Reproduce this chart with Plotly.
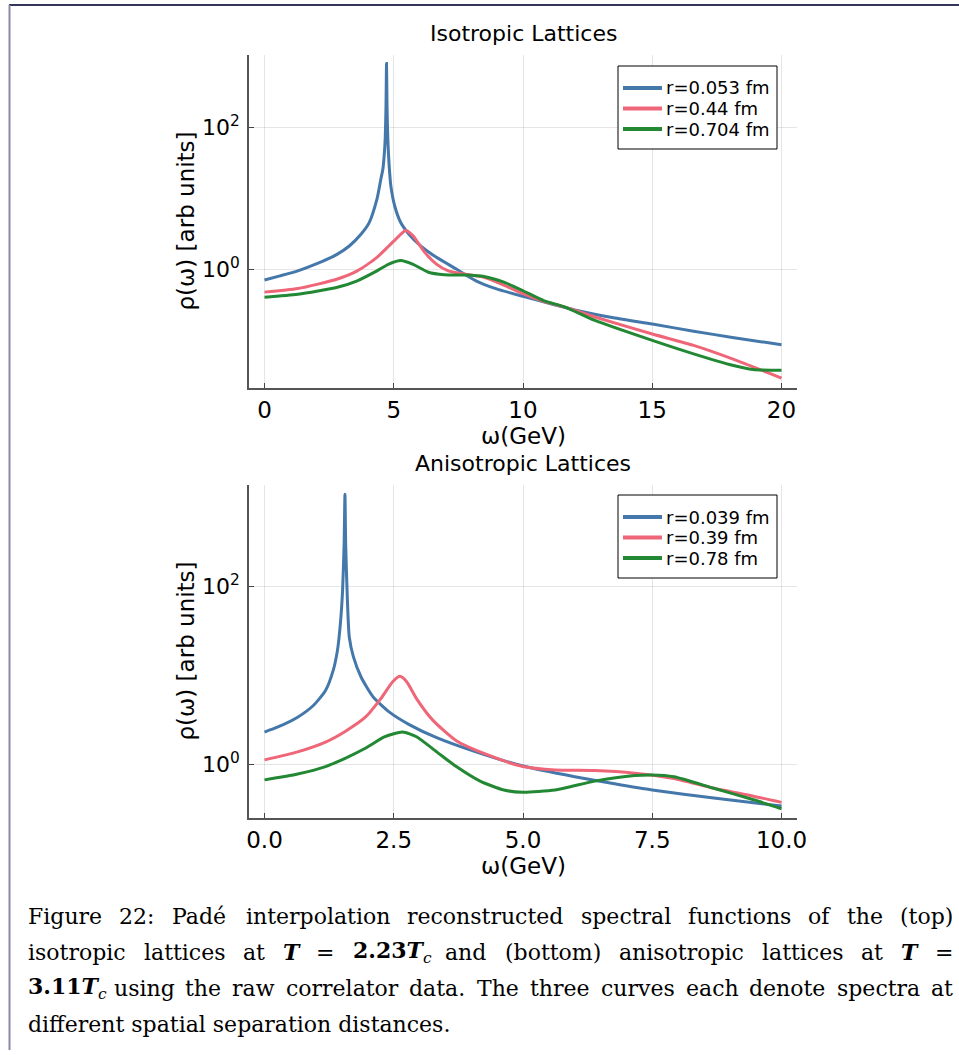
import plotly.graph_objects as go

W, H = 959, 1050

# ---------------- data ----------------
iso_names = ["r=0.053 fm", "r=0.44 fm", "r=0.704 fm"]
aniso_names = ["r=0.039 fm", "r=0.39 fm", "r=0.78 fm"]
colors = ["#4477AA", "#EE6677", "#228833"]

iso_blue_x = [0, 0.6, 1.29, 2.05, 2.82, 3.28, 3.74, 4.05, 4.35, 4.5, 4.58, 4.63, 4.67, 4.70, 4.72,
              4.74, 4.77, 4.82, 4.89, 5.04, 5.27, 5.58, 6.04, 6.65, 7.42, 8.18, 8.95, 10, 11.25, 12,
              13.5, 15, 16.6, 18.1, 20]
iso_blue_y = [0.708, 0.81, 0.955, 1.213, 1.641, 2.138, 3.162, 4.571, 9.77, 18.6, 26.0, 40.0, 70.0, 200.0, 794,
              200.0, 70.0, 30.0, 14.79, 7.76, 4.57, 3.16, 2.14, 1.479, 1.012, 0.692, 0.537, 0.417, 0.316, 0.269,
              0.209, 0.170, 0.135, 0.110, 0.087]

iso_red_x = [0, 1.29, 2.82, 3.59, 4.35, 4.81, 5.2, 5.46, 5.73, 6.2, 6.65, 7.11, 7.72, 8.49, 9.26, 10,
             10.8, 11.63, 12.78, 15, 16.6, 18.1, 20]
iso_red_y = [0.479, 0.537, 0.733, 0.955, 1.479, 2.138, 2.951, 3.548, 3.020, 1.738, 1.189, 0.955, 0.861,
             0.776, 0.603, 0.457, 0.355, 0.295, 0.214, 0.123, 0.0851, 0.0550, 0.0295]

iso_green_x = [0, 1.29, 2.82, 3.59, 4.35, 4.81, 5.27, 5.73, 6.34, 6.96, 7.72, 8.49, 9.26, 10, 10.8,
               11.63, 12.78, 15, 16.6, 18.1, 18.9, 20]
iso_green_y = [0.407, 0.447, 0.562, 0.692, 0.955, 1.189, 1.337, 1.189, 0.912, 0.841, 0.832, 0.794, 0.661,
               0.501, 0.363, 0.295, 0.191, 0.100, 0.0646, 0.0447, 0.0389, 0.0380]

an_blue_x = [0, 0.26, 0.64, 0.95, 1.18, 1.33, 1.41, 1.47, 1.51, 1.54, 1.556, 1.57, 1.60, 1.64, 1.72,
             1.87, 2.10, 2.41, 2.79, 3.33, 4.09, 5.0, 6.0, 6.77, 7.5, 8.69, 10]
an_blue_y = [2.307, 2.630, 3.388, 4.624, 6.761, 11.48, 19.05, 40.0, 90.0, 300.0, 1096, 300.0, 80.0, 26.9, 16.2,
             9.55, 5.75, 3.89, 2.818, 1.995, 1.380, 0.955, 0.724, 0.603, 0.513, 0.417, 0.339]

an_red_x = [0, 0.64, 1.18, 1.56, 1.95, 2.25, 2.48, 2.62, 2.75, 2.94, 3.25, 3.71, 4.32, 5.0, 5.62, 6.39,
            7.16, 7.92, 8.69, 9.46, 10]
an_red_y = [1.122, 1.380, 1.778, 2.344, 3.388, 5.495, 8.511, 9.772, 8.511, 5.495, 3.162, 1.841, 1.274,
            0.942, 0.863, 0.851, 0.794, 0.692, 0.537, 0.437, 0.372]

an_green_x = [0, 0.64, 1.18, 1.56, 1.95, 2.33, 2.67, 2.94, 3.33, 3.71, 4.17, 4.63, 5.0, 5.62, 6.39,
              7.16, 7.5, 7.92, 8.69, 9.46, 10]
an_green_y = [0.667, 0.776, 0.942, 1.167, 1.514, 2.042, 2.307, 2.042, 1.380, 0.942, 0.646, 0.513, 0.485,
              0.513, 0.646, 0.746, 0.759, 0.724, 0.537, 0.398, 0.316]

iso_xticks = [0, 5, 10, 15, 20]
iso_xticktext = ["0", "5", "10", "15", "20"]
an_xticks = [0, 2.5, 5, 7.5, 10]
an_xticktext = ["0.0", "2.5", "5.0", "7.5", "10.0"]
ytick_vals = [1, 100]
ytick_text = ["10<sup>0</sup>", "10<sup>2</sup>"]

titles = ["Isotropic Lattices", "Anisotropic Lattices"]
xlabel = "ω(GeV)"
ylabel = "ρ(ω) [arb units]"

caption_lines = [
    [("Figure", "Figure"), ("22:", "22:"), ("Padé", "Pade"), ("interpolation", "interpolation"),
     ("reconstructed", "reconstructed"), ("spectral", "spectral"), ("functions", "functions"),
     ("of", "of"), ("the", "the"), ("(top)", "(top)")],
    [("isotropic", "isotropic"), ("lattices", "lattices"), ("at", "at"), ("<b><i>T</i></b>", "T"),
     ("=", "="), ("<b>2.23<i>T</i></b><sub><i>c</i></sub>", "2.23Tk"), ("and", "and"),
     ("(bottom)", "(bottom)"), ("anisotropic", "anisotropic"), ("lattices", "lattices"), ("at", "at"),
     ("<b><i>T</i></b>", "T"), ("=", "=")],
    [("<b>3.11<i>T</i></b><sub><i>c</i></sub>", "3.11Tk"), ("using", "using"), ("the", "the"),
     ("raw", "raw"), ("correlator", "correlator"), ("data.", "data."), ("The", "The"),
     ("three", "three"), ("curves", "curves"), ("each", "each"), ("denote", "denote"),
     ("spectra", "spectra"), ("at", "at")],
]
caption_last = "different spatial separation distances."

# ---------------- figure ----------------
fig = go.Figure()

def add(x, y, name, color, xa, ya):
    fig.add_trace(go.Scatter(x=x, y=y, name=name, mode="lines", showlegend=False,
                             line=dict(color=color, width=3, shape="spline", smoothing=0.6),
                             xaxis=xa, yaxis=ya))

add(iso_blue_x, iso_blue_y, iso_names[0], colors[0], "x", "y")
add(iso_red_x, iso_red_y, iso_names[1], colors[1], "x", "y")
add(iso_green_x, iso_green_y, iso_names[2], colors[2], "x", "y")
add(an_blue_x, an_blue_y, aniso_names[0], colors[0], "x2", "y2")
add(an_red_x, an_red_y, aniso_names[1], colors[1], "x2", "y2")
add(an_green_x, an_green_y, aniso_names[2], colors[2], "x2", "y2")

def fx(p):
    return p / W

def fy(p):
    return 1 - p / H

plot_l, plot_r = 249, 797
top_t, top_b = 55, 388
bot_t, bot_b = 485, 818

tickfont = dict(family="DejaVu Sans", size=23, color="black")
ytickfont = dict(family="DejaVu Sans", size=22, color="black")
axcommon = dict(showline=True, linecolor="#555555", linewidth=1.5, mirror=False,
                ticks="inside", ticklen=5, tickcolor="#444444", tickwidth=1,
                showgrid=True, gridcolor="rgba(0,0,0,0.1)", gridwidth=1,
                zeroline=False)

fig.update_layout(
    width=W, height=H,
    margin=dict(l=0, r=0, t=0, b=0, autoexpand=False),
    paper_bgcolor="white", plot_bgcolor="white",
    showlegend=False,
    xaxis=dict(domain=[fx(plot_l), fx(plot_r)], range=[-0.6, 20.6], anchor="y", tickfont=tickfont,
               tickvals=iso_xticks, ticktext=iso_xticktext, ticklabelstandoff=1, **axcommon),
    yaxis=dict(domain=[fy(top_b), fy(top_t)], type="log", range=[-1.67, 3.02], anchor="x", tickfont=ytickfont,
               tickvals=ytick_vals, ticktext=ytick_text, ticklabelstandoff=3, **axcommon),
    xaxis2=dict(domain=[fx(plot_l), fx(plot_r)], range=[-0.3, 10.3], anchor="y2", tickfont=tickfont,
                tickvals=an_xticks, ticktext=an_xticktext, ticklabelstandoff=1, **axcommon),
    yaxis2=dict(domain=[fy(bot_b), fy(bot_t)], type="log", range=[-0.605, 3.145], anchor="x2", tickfont=ytickfont,
                tickvals=ytick_vals, ticktext=ytick_text, ticklabelstandoff=3, **axcommon),
)

shapes = []
ann = []
# legend boxes (drawn manually to match the compact entry spacing)
legfont = dict(family="DejaVu Sans", size=18, color="black")
for (t, b), names in [((66, 149), iso_names), ((495, 578), aniso_names)]:
    shapes.append(dict(type="rect", xref="paper", yref="paper", x0=fx(618), x1=fx(777),
                       y0=fy(b), y1=fy(t), line=dict(color="black", width=1),
                       fillcolor="white", layer="above"))
    for i, (nm, col) in enumerate(zip(names, colors)):
        yy = t + 22 + 20.5 * i
        shapes.append(dict(type="line", xref="paper", yref="paper", x0=fx(623), x1=fx(662),
                           y0=fy(yy), y1=fy(yy), line=dict(color=col, width=4), layer="above"))
        ann.append(dict(text=nm, x=fx(664), y=fy(yy), xref="paper", yref="paper",
                        showarrow=False, xanchor="left", yanchor="middle", font=legfont))
# page frame
shapes.append(dict(type="line", xref="paper", yref="paper", x0=fx(9), x1=1, y0=fy(5), y1=fy(5),
                   line=dict(color="#33365a", width=2)))
shapes.append(dict(type="line", xref="paper", yref="paper", x0=fx(9.5), x1=fx(9.5), y0=0, y1=fy(5),
                   line=dict(color="#8a8aa8", width=2)))
fig.update_layout(shapes=shapes)

labfont = dict(family="DejaVu Sans", size=23, color="black")
titfont = dict(family="DejaVu Sans", size=22, color="black")
cx = (plot_l + plot_r) / 2
for t, (yt, yb) in zip(titles, [(top_t, top_b), (bot_t, bot_b)]):
    ann.append(dict(text=t, x=fx(cx), y=fy(yt - 22), xref="paper", yref="paper",
                    showarrow=False, xanchor="center", yanchor="middle", font=titfont))
    ann.append(dict(text=xlabel, x=fx(cx), y=fy(yb + 48), xref="paper", yref="paper",
                    showarrow=False, xanchor="center", yanchor="middle", font=labfont))
    ann.append(dict(text=ylabel, x=fx(185), y=fy((yt + yb) / 2), xref="paper", yref="paper",
                    showarrow=False, xanchor="center", yanchor="middle", textangle=-90, font=labfont))

# caption (justified lines), DejaVu Serif advance widths (em)
cap_size = 22
widths = dict(zip("abcdefghijklmnopqrstuvwxyz",
                  [.596, .640, .560, .640, .592, .370, .640, .644, .320, .310, .606, .320, .948, .644,
                   .602, .640, .640, .478, .513, .402, .644, .565, .856, .564, .565, .527]))
widths.update({"F": .683, "P": .732, "T": .70, "k": .39, ".": .318, ":": .337, "(": .390, ")": .390,
               "=": .838})
for d in "0123456789":
    widths[d] = .66

def est(word):
    return sum(widths.get(ch, .6) for ch in word) * cap_size

cap_left, cap_right = 26, 951
line_mid = [916, 952, 988, 1024]
capfont = dict(family="DejaVu Serif", size=cap_size, color="black")
for li, toks in enumerate(caption_lines):
    ws = [est(p) for _, p in toks]
    gap = (cap_right - cap_left - sum(ws)) / (len(toks) - 1)
    xpos = cap_left
    for (html, plain), w in zip(toks, ws):
        ann.append(dict(text=html, x=fx(xpos), y=fy(line_mid[li]), xref="paper", yref="paper",
                        showarrow=False, xanchor="left", yanchor="middle", font=capfont))
        xpos += w + gap
ann.append(dict(text=caption_last, x=fx(cap_left), y=fy(line_mid[3]), xref="paper", yref="paper",
                showarrow=False, xanchor="left", yanchor="middle", font=capfont))

fig.update_layout(annotations=ann)
fig.write_html("out.html")
